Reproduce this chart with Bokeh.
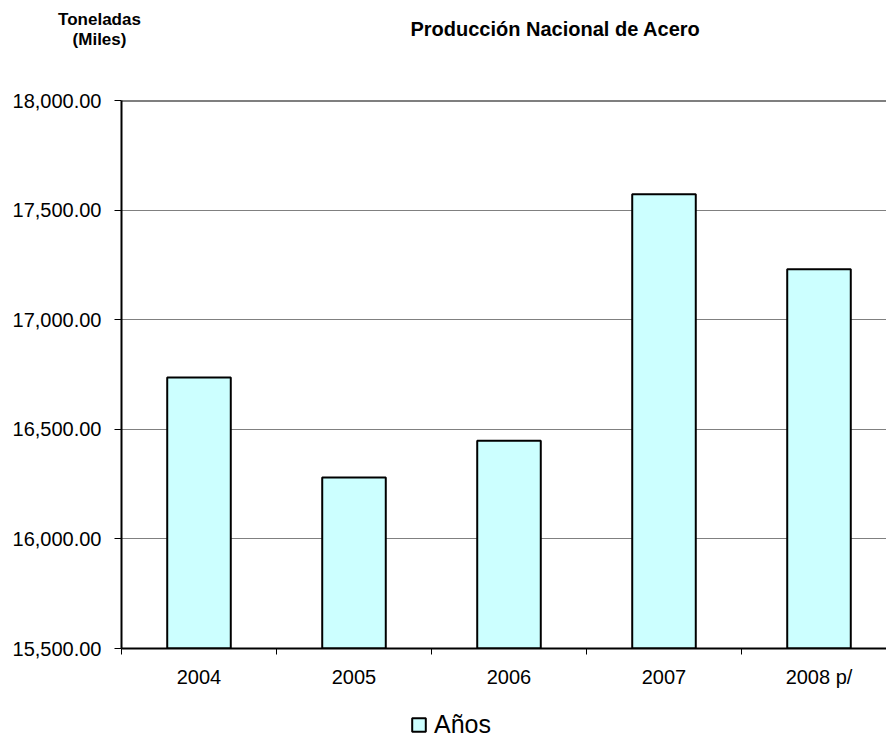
from bokeh.plotting import figure
from bokeh.layouts import column
from bokeh.models import (FixedTicker, NumeralTickFormatter, Span, Label, Legend,
                          LegendItem, Range1d)
from bokeh.embed import file_html
from bokeh.resources import INLINE

categories = ["2004", "2005", "2006", "2007", "2008 p/"]
values = [16736, 16280, 16448, 17572, 17230]
y_ticks = [15500, 16000, 16500, 17000, 17500, 18000]
title_text = "Producción Nacional de Acero"
ylab1 = "Toneladas"
ylab2 = "(Miles)"
legend_text = "Años"

FONT = "Liberation Sans"
xs = list(range(len(categories)))

W = 886
MAIN_H = 690
FOOT_H = 49
LEFT = 121
TOP = 100
BOTTOM = 648
Y0, Y1 = 15500, 18000
X0 = -0.5
CAT_W = 155.0
X1 = X0 + (W - LEFT) / CAT_W


def sx_to_data(sx):
    return X0 + (sx - LEFT) / CAT_W


def sy_to_data(sy):
    return Y0 + (BOTTOM - sy) * (Y1 - Y0) / (BOTTOM - TOP)


p = figure(width=W, height=MAIN_H, output_backend="svg", toolbar_location=None,
           x_range=Range1d(X0, X1), y_range=Range1d(Y0, Y1),
           min_border_left=LEFT, min_border_right=0, min_border_top=TOP,
           min_border_bottom=MAIN_H - BOTTOM)
p.outline_line_color = None

BAR_STYLE = dict(fill_color="#CCFFFF", line_color="black", line_width=2)
bars = p.vbar(x=xs, top=values, bottom=Y0, width=0.41, **BAR_STYLE)

# y axis
p.yaxis.ticker = FixedTicker(ticks=y_ticks)
p.yaxis.formatter = NumeralTickFormatter(format="0,0.00")
p.yaxis.axis_line_color = "black"
p.yaxis.axis_line_width = 2
p.yaxis.major_tick_line_color = "black"
p.yaxis.major_tick_line_width = 1
p.yaxis.major_tick_out = 7
p.yaxis.major_tick_in = 0
p.yaxis.minor_tick_line_color = None
p.yaxis.major_label_text_font = FONT
p.yaxis.major_label_text_font_size = "20px"
p.yaxis.major_label_text_color = "black"
p.yaxis.major_label_standoff = 13

# x axis
p.xaxis.ticker = FixedTicker(ticks=xs, minor_ticks=[i - 0.5 for i in xs])
p.xaxis.major_label_overrides = {i: c for i, c in zip(xs, categories)}
p.xaxis.axis_line_color = "black"
p.xaxis.axis_line_width = 2
p.xaxis.major_tick_line_color = None
p.xaxis.major_tick_out = 0
p.xaxis.major_tick_in = 0
p.xaxis.minor_tick_line_color = "black"
p.xaxis.minor_tick_out = 6
p.xaxis.minor_tick_in = 0
p.xaxis.major_label_text_font = FONT
p.xaxis.major_label_text_font_size = "20px"
p.xaxis.major_label_text_color = "black"
p.xaxis.major_label_standoff = 11

p.xgrid.grid_line_color = None
p.ygrid.ticker = FixedTicker(ticks=y_ticks)
p.ygrid.grid_line_color = "#808080"
p.ygrid.grid_line_width = 1

p.add_layout(Span(location=Y1, dimension="width", line_color="black", line_width=2))

# header texts (placed in the top side panel, positioned in data units)
p.add_layout(Label(x=sx_to_data(555), y=sy_to_data(28.5), text=title_text,
                   text_font=FONT, text_font_size="20px", text_font_style="bold",
                   text_color="black", text_align="center", text_baseline="middle"),
             "above")
p.add_layout(Label(x=sx_to_data(99), y=sy_to_data(19), text=ylab1,
                   text_font=FONT, text_font_size="17px", text_font_style="bold",
                   text_color="black", text_align="center", text_baseline="middle"),
             "above")
p.add_layout(Label(x=sx_to_data(99), y=sy_to_data(39), text=ylab2,
                   text_font=FONT, text_font_size="17px", text_font_style="bold",
                   text_color="black", text_align="center", text_baseline="middle"),
             "above")

# footer with legend (its renderer is hidden; only the legend swatch shows)
foot = figure(width=W, height=FOOT_H, output_backend="svg", toolbar_location=None,
              x_range=Range1d(X0, X1), y_range=Range1d(0, 1),
              x_axis_location=None, y_axis_location=None,
              min_border_left=LEFT, min_border_right=0, min_border_top=0,
              min_border_bottom=0)
foot.outline_line_color = None
foot.xgrid.grid_line_color = None
foot.ygrid.grid_line_color = None
legend_r = foot.vbar(x=xs, top=values, bottom=Y0, width=0.41, **BAR_STYLE)
legend_r.visible = False

legend = Legend(items=[LegendItem(label=legend_text, renderers=[legend_r])],
                location=(410 - LEFT, 0), orientation="horizontal",
                label_text_font=FONT, label_text_font_size="25px",
                label_text_color="black",
                glyph_width=17, glyph_height=17, label_standoff=7,
                padding=0, margin=0, spacing=0, click_policy="none",
                border_line_color=None, background_fill_alpha=0)
foot.add_layout(legend, "center")

layout = column(p, foot, spacing=0)
open("out.html", "w").write(file_html(layout, INLINE))
